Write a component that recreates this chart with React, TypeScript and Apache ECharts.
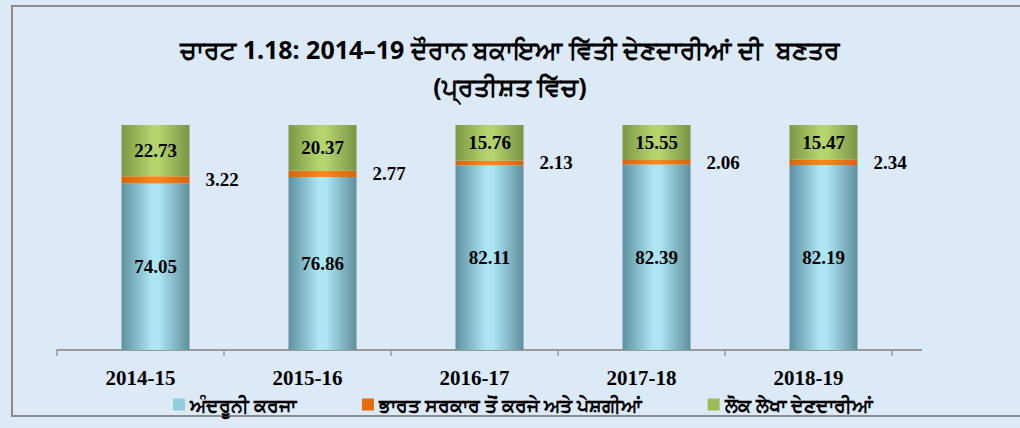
import React, { useEffect, useRef } from "react";
import * as echarts from "echarts";

const categories = ["2014-15", "2015-16", "2016-17", "2017-18", "2018-19"];
const internalDebt = [74.05, 76.86, 82.11, 82.39, 82.19];
const goiLoans = [3.22, 2.77, 2.13, 2.06, 2.34];
const publicAccount = [22.73, 20.37, 15.76, 15.55, 15.47];
const seriesNames = [
  "ਅੰਦਰੂਨੀ ਕਰਜਾ",
  "ਭਾਰਤ ਸਰਕਾਰ ਤੋਂ ਕਰਜੇ ਅਤੇ ਪੇਸ਼ਗੀਆਂ",
  "ਲੋਕ ਲੇਖਾ ਦੇਣਦਾਰੀਆਂ",
];
const titleLine1 = "ਚਾਰਟ 1.18: 2014–19 ਦੌਰਾਨ ਬਕਾਇਆ ਵਿੱਤੀ ਦੇਣਦਾਰੀਆਂ ਦੀ  ਬਣਤਰ";
const titleLine2 = "(ਪ੍ਰਤੀਸ਼ਤ ਵਿੱਚ)";

const grad = (edgeL: string, mid: string, edgeR: string) =>
  new echarts.graphic.LinearGradient(0, 0, 1, 0, [
    { offset: 0, color: edgeL },
    { offset: 0.45, color: mid },
    { offset: 0.55, color: mid },
    { offset: 1, color: edgeR },
  ]);

export default function App() {
  const ref = useRef<HTMLDivElement>(null);
  useEffect(() => {
    if (!ref.current) return;
    const chart = echarts.init(ref.current, undefined, { renderer: "svg" });
    const serif = "'Liberation Serif', 'Times New Roman', serif";
    const gur = "'Noto Sans', 'DejaVu Sans', sans-serif";
    const barLabel = {
      show: true,
      fontFamily: serif,
      fontWeight: "bold" as const,
      fontSize: 19,
      color: "#000",
    };
    chart.setOption({
      animation: false,
      backgroundColor: "#dce9f6",
      title: [
        {
          text: titleLine1,
          left: "center",
          top: 31,
          textStyle: { fontFamily: gur, fontSize: 25, fontWeight: "bold", color: "#000" },
        },
        {
          text: titleLine2,
          left: "center",
          top: 68,
          textStyle: { fontFamily: gur, fontSize: 25, fontWeight: "bold", color: "#000" },
        },
      ],
      graphic: [
        {
          type: "rect",
          shape: { x: 12, y: 6, width: 1030, height: 410 },
          style: { fill: "none", stroke: "#8c8c8c", lineWidth: 2 },
          silent: true,
        },
        {
          type: "line",
          shape: { x1: 892, y1: 350, x2: 922, y2: 350 },
          style: { stroke: "#9a9a9a", lineWidth: 2 },
          silent: true,
        },
      ],
      legend: {
        bottom: 9,
        left: 168,
        itemWidth: 12,
        itemHeight: 12,
        itemGap: 66,
        icon: "rect",
        textStyle: { fontFamily: gur, fontSize: 19, fontWeight: "bold", color: "#000" },
        data: [
          { name: seriesNames[0], itemStyle: { color: "#93cddd" } },
          { name: seriesNames[1], itemStyle: { color: "#e46c0a" } },
          { name: seriesNames[2], itemStyle: { color: "#9bbb59" } },
        ],
      },
      grid: [
        { left: 57, width: 835, top: 125, height: 225 },
        { left: 72, width: 835, top: 125, height: 225 },
      ],
      xAxis: [
        {
          type: "category",
          gridIndex: 0,
          data: categories,
          axisLine: { lineStyle: { color: "#9a9a9a", width: 2 } },
          axisTick: { show: true, length: 6, lineStyle: { color: "#9a9a9a", width: 1.5 } },
          axisLabel: {
            fontFamily: serif,
            fontWeight: "bold",
            fontSize: 21,
            color: "#000",
            margin: 17,
          },
        },
        {
          type: "category",
          gridIndex: 1,
          data: categories,
          show: false,
        },
      ],
      yAxis: [
        { type: "value", gridIndex: 0, min: 0, max: 100, show: false, splitLine: { show: false } },
        { type: "value", gridIndex: 1, min: 0, max: 100, show: false, splitLine: { show: false } },
      ],
      series: [
        {
          name: seriesNames[0],
          type: "bar",
          stack: "total",
          xAxisIndex: 1,
          yAxisIndex: 1,
          barWidth: 68,
          data: internalDebt,
          itemStyle: { color: grad("#5d929f", "#ade5f3", "#5f8f9b") },
          label: { ...barLabel, position: "inside" },
        },
        {
          name: seriesNames[1],
          type: "bar",
          stack: "total",
          xAxisIndex: 1,
          yAxisIndex: 1,
          barWidth: 68,
          data: goiLoans,
          itemStyle: { color: grad("#d4650c", "#f8861c", "#d4650c") },
          label: { ...barLabel, position: "right", distance: 16 },
        },
        {
          name: seriesNames[2],
          type: "bar",
          stack: "total",
          xAxisIndex: 1,
          yAxisIndex: 1,
          barWidth: 68,
          data: publicAccount,
          itemStyle: { color: grad("#7c9843", "#b4d46d", "#7a9444") },
          label: { ...barLabel, position: "inside" },
        },
      ],
    });
    return () => chart.dispose();
  }, []);
  return (
    <div
      ref={ref}
      style={{ position: "fixed", left: 0, top: 0, width: 1020, height: 428 }}
    />
  );
}
